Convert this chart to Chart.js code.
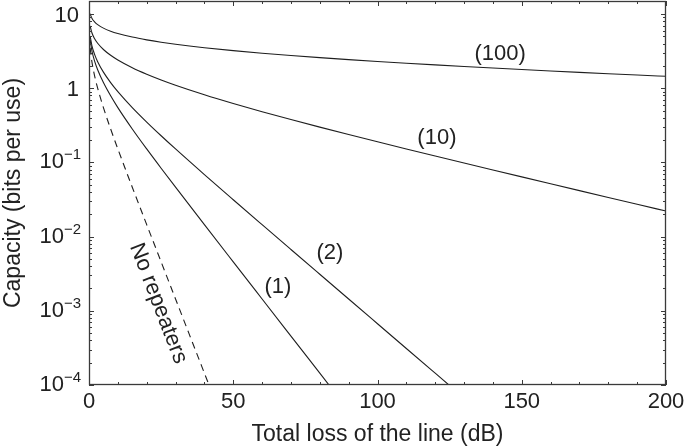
<!DOCTYPE html>
<html>
<head>
<meta charset="utf-8">
<script src="https://cdn.jsdelivr.net/npm/chart.js@4.4.1/dist/chart.umd.min.js"></script>
<style>
  html, body { margin: 0; padding: 0; background: #ffffff; }
  #wrap { width: 685px; height: 447px; position: relative; }
</style>
</head>
<body>
<div id="wrap"><canvas id="c"></canvas></div>
<script>
// ---- data ----
const lossNone = [0.4, 1, 2, 3, 5, 7.5, 10, 15, 20, 25, 30, 35, 40, 45];
const capNone  = [3.507, 2.2815, 1.4382, 1.0034, 0.5484, 0.2825, 0.152, 0.04636, 0.0145, 0.004569, 0.0014434, 0.0004563, 0.00014428, 0.00004562];

const loss1 = [0.4, 1, 2, 3, 5, 7.5, 10, 15, 20, 25, 30, 40, 50, 60, 70, 80, 90];
const cap1  = [4.4737, 3.2009, 2.2815, 1.7757, 1.1921, 0.7901, 0.5484, 0.2825, 0.152, 0.0835, 0.04636, 0.0145, 0.004569, 0.0014434, 0.0004563, 0.00014428, 0.00004562];

const loss2 = [0.4, 1, 2, 3, 5, 7.5, 10, 15, 20, 25, 30, 40, 50, 60, 70, 80, 90, 100, 110, 120, 130];
const cap2  = [5.048, 3.7587, 2.813, 2.2815, 1.6497, 1.1921, 0.9001, 0.5484, 0.3501, 0.229, 0.152, 0.06857, 0.03142, 0.0145, 0.006712, 0.0031116, 0.0014434, 0.0006698, 0.00031085, 0.00014428, 0.00006697];

const loss10 = [0.4, 1, 2, 3, 5, 7.5, 10, 15, 20, 25, 30, 40, 50, 60, 70, 80, 90, 100, 110, 120, 130, 140, 150, 160, 170, 180, 190, 200];
const cap10  = [6.906, 5.593, 4.608, 4.038, 3.331, 2.783, 2.4046, 1.8918, 1.5477, 1.2953, 1.1006, 0.8183, 0.624, 0.4836, 0.379, 0.2994, 0.2378, 0.18982, 0.152, 0.12204, 0.09819, 0.07912, 0.06384, 0.05157, 0.04169, 0.03372, 0.02729, 0.0221];

const loss100 = [0.4, 1, 2, 3, 5, 7.5, 10, 15, 20, 25, 30, 40, 50, 60, 70, 80, 90, 100, 110, 120, 130, 140, 150, 160, 170, 180, 190, 200];
const cap100  = [10.1, 8.779, 7.78, 7.197, 6.463, 5.882, 5.4714, 4.8946, 4.4878, 4.174, 3.9191, 3.5203, 3.2146, 2.9676, 2.7613, 2.5846, 2.4306, 2.2944, 2.1727, 2.0629, 1.9631, 1.8717, 1.7877, 1.7101, 1.6381, 1.571, 1.5083, 1.4495];

const seriesNames = ['No repeaters', '(1)', '(2)', '(10)', '(100)'];

const xTicks = [0, 50, 100, 150, 200];
const yTickValues = [1e-4, 1e-3, 1e-2, 1e-1, 1, 10];
const yTickBase = ['10', '10', '10', '10', '1', '10'];
const yTickExp  = ['\u22124', '\u22123', '\u22122', '\u22121', '', ''];

const xTitle = 'Total loss of the line (dB)';
const yTitle = 'Capacity (bits per use)';

// curve annotations (data coordinates, rotation in degrees)
const annotations = [
  { text: 'No repeaters', x: 24.0, y: 0.00126, rot: 69 },
  { text: '(1)', x: 65.5, y: 0.00207, rot: 0 },
  { text: '(2)', x: 83.5, y: 0.00594, rot: 0 },
  { text: '(10)', x: 120.6, y: 0.215, rot: 0 },
  { text: '(100)', x: 142.5, y: 2.9, rot: 0 }
];

// ---- chart ----
const FONT = '"Liberation Sans", Arial, Helvetica, sans-serif';
Chart.defaults.font.family = FONT;
const INK = '#222222';

function pts(xs, ys) { return xs.map((x, i) => ({ x: x, y: ys[i] })); }

function lineDs(name, xs, ys, dashed) {
  return {
    label: name,
    data: pts(xs, ys),
    borderColor: '#1e1e1e',
    borderWidth: 1.1,
    borderDash: dashed ? [7, 5] : [],
    pointRadius: 0,
    fill: false,
    cubicInterpolationMode: 'monotone'
  };
}

const deco = {
  id: 'deco',
  afterDatasetsDraw(chart) {
    const ctx = chart.ctx;
    const a = chart.chartArea;
    const xs = chart.scales.x, ys = chart.scales.y;
    ctx.save();
    // frame
    ctx.strokeStyle = '#3a3a3a';
    ctx.lineWidth = 1.3;
    ctx.setLineDash([]);
    ctx.strokeRect(a.left + 0.5, a.top + 0.5, a.right - a.left - 1, a.bottom - a.top - 1);
    // x ticks (inside, bottom and top)
    ctx.lineWidth = 1;
    ctx.beginPath();
    for (let v = xs.min; v <= xs.max; v += 10) {
      const px = Math.round(xs.getPixelForValue(v)) + 0.5;
      const len = (v % 50 === 0) ? 5 : 3;
      ctx.moveTo(px, a.bottom); ctx.lineTo(px, a.bottom - len);
      ctx.moveTo(px, a.top); ctx.lineTo(px, a.top + len);
    }
    // y ticks (log, inside, left and right)
    for (let d = -4; d <= 1; d++) {
      for (let m = 1; m <= 9; m++) {
        const v = m * Math.pow(10, d);
        if (v < ys.min * 0.999 || v > ys.max) continue;
        const py = Math.round(ys.getPixelForValue(v)) + 0.5;
        const len = (m === 1) ? 5 : 3;
        ctx.moveTo(a.left, py); ctx.lineTo(a.left + len, py);
        ctx.moveTo(a.right, py); ctx.lineTo(a.right - len, py);
      }
    }
    ctx.stroke();

    // y tick labels with superscript exponents
    ctx.fillStyle = INK;
    const rightEdge = a.left - 8;
    yTickValues.forEach((v, i) => {
      const py = ys.getPixelForValue(v);
      const base = yTickBase[i], ex = yTickExp[i];
      ctx.textBaseline = 'alphabetic';
      ctx.textAlign = 'left';
      ctx.font = '15px ' + FONT;
      const ew = ex ? ctx.measureText(ex).width : 0;
      ctx.font = '22px ' + FONT;
      const bw = ctx.measureText(base).width;
      if (ex) {
        ctx.fillText(base, rightEdge - ew - bw, py + 6);
        ctx.font = '15px ' + FONT;
        ctx.fillText(ex, rightEdge - ew, py - 3);
      } else {
        ctx.fillText(base, rightEdge - 2 - bw, py + 8);
      }
    });

    // axis titles
    ctx.font = '23px ' + FONT;
    ctx.textAlign = 'center';
    ctx.textBaseline = 'middle';
    ctx.fillText(xTitle, (a.left + a.right) / 2, 435);
    ctx.save();
    ctx.translate(14, (a.top + a.bottom) / 2);
    ctx.rotate(-Math.PI / 2);
    ctx.fillText(yTitle, 0, 0);
    ctx.restore();

    // curve annotations
    ctx.font = '22px ' + FONT;
    annotations.forEach(n => {
      const px = xs.getPixelForValue(n.x), py = ys.getPixelForValue(n.y);
      ctx.save();
      ctx.translate(px, py);
      ctx.rotate(n.rot * Math.PI / 180);
      ctx.fillText(n.text, 0, 0);
      ctx.restore();
    });
    ctx.restore();
  }
};

new Chart(document.getElementById('c'), {
  type: 'line',
  data: {
    datasets: [
      lineDs(seriesNames[0], lossNone, capNone, true),
      lineDs(seriesNames[1], loss1, cap1, false),
      lineDs(seriesNames[2], loss2, cap2, false),
      lineDs(seriesNames[3], loss10, cap10, false),
      lineDs(seriesNames[4], loss100, cap100, false)
    ]
  },
  options: {
    responsive: true,
    maintainAspectRatio: false,
    animation: false,
    devicePixelRatio: 1,
    layout: { padding: { left: 0, top: 1, right: 19, bottom: 0 } },
    plugins: { legend: { display: false }, tooltip: { enabled: false } },
    scales: {
      x: {
        type: 'linear',
        min: 0, max: 200,
        afterBuildTicks: s => { s.ticks = xTicks.map(v => ({ value: v })); },
        afterFit: s => { s.height = 62; s.paddingLeft = 0; s.paddingRight = 0; },
        ticks: { font: { size: 22 }, color: INK, padding: 4, maxRotation: 0, autoSkip: false },
        grid: { display: false, drawTicks: false },
        border: { display: false }
      },
      y: {
        type: 'logarithmic',
        min: 1e-4, max: 15,
        afterBuildTicks: s => { s.ticks = yTickValues.map(v => ({ value: v })); },
        afterFit: s => { s.width = 89; s.paddingTop = 0; s.paddingBottom = 0; },
        ticks: { callback: () => '', display: true },
        grid: { display: false, drawTicks: false },
        border: { display: false }
      }
    }
  },
  plugins: [deco]
});
</script>
</body>
</html>
